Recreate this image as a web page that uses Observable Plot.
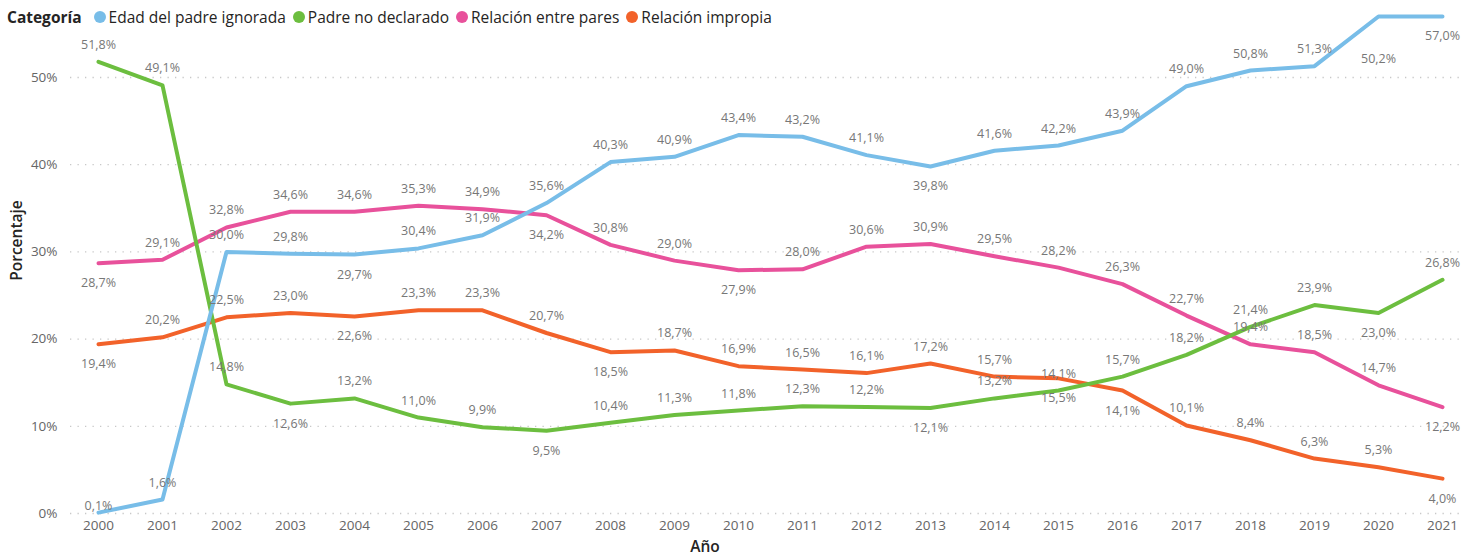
<!DOCTYPE html>
<html>
<head>
<meta charset="utf-8">
<script src="https://cdn.jsdelivr.net/npm/d3@7"></script>
<script src="https://cdn.jsdelivr.net/npm/@observablehq/plot@0.6"></script>
<style>
  html, body { margin: 0; padding: 0; background: #fff; }
  #wrap { position: relative; width: 1483px; height: 557px; font-family: "Open Sans", sans-serif; }
  #legend { position: absolute; top: 0; left: 7px; height: 34px; display: flex; align-items: center; font-size: 15.5px; color: #252423; white-space: nowrap; z-index: 2; }
  #legend .title { font-weight: 700; margin-right: 12px; }
  #legend .item { display: flex; align-items: center; margin-right: 7px; }
  #legend .dot { width: 12px; height: 12px; border-radius: 50%; margin-right: 3px; }
  #chart { position: absolute; top: 0; left: 0; }
</style>
</head>
<body>
<div id="wrap">
  <div id="legend"></div>
  <div id="chart"></div>
</div>
<script>
// ---- data ----
const years = [2000, 2001, 2002, 2003, 2004, 2005, 2006, 2007, 2008, 2009, 2010,
               2011, 2012, 2013, 2014, 2015, 2016, 2017, 2018, 2019, 2020, 2021];
const categories = ["Edad del padre ignorada", "Padre no declarado", "Relación entre pares", "Relación impropia"];
const colors = ["#78BDE8", "#6CBE3F", "#E8519B", "#F2622A"];

const edadIgnorada = [0.1, 1.6, 30.0, 29.8, 29.7, 30.4, 31.9, 35.6, 40.3, 40.9, 43.4,
                      43.2, 41.1, 39.8, 41.6, 42.2, 43.9, 49.0, 50.8, 51.3, 57.0, 57.0];
// the label printed at 2020 reads 50,2% although the line sits at 57%
const edadIgnoradaEtiquetas = [0.1, 1.6, 30.0, 29.8, 29.7, 30.4, 31.9, 35.6, 40.3, 40.9, 43.4,
                      43.2, 41.1, 39.8, 41.6, 42.2, 43.9, 49.0, 50.8, 51.3, 50.2, 57.0];
const padreNoDeclarado = [51.8, 49.1, 14.8, 12.6, 13.2, 11.0, 9.9, 9.5, 10.4, 11.3, 11.8,
                          12.3, 12.2, 12.1, 13.2, 14.1, 15.7, 18.2, 21.4, 23.9, 23.0, 26.8];
const relacionPares = [28.7, 29.1, 32.8, 34.6, 34.6, 35.3, 34.9, 34.2, 30.8, 29.0, 27.9,
                       28.0, 30.6, 30.9, 29.5, 28.2, 26.3, 22.7, 19.4, 18.5, 14.7, 12.2];
const relacionImpropia = [19.4, 20.2, 22.5, 23.0, 22.6, 23.3, 23.3, 20.7, 18.5, 18.7, 16.9,
                          16.5, 16.1, 17.2, 15.7, 15.5, 14.1, 10.1, 8.4, 6.3, 5.3, 4.0];
const yTicks = [0, 10, 20, 30, 40, 50];

// label placement (a = above, b = below, n = just above)
const labelPlacement = [
  "naaabaaaaaaaabaaaaaaab".split(""),
  "aaabaaabaaaaabaaaaaaba".split(""),
  "baaaaaabaabaaaaaaaaaab".split(""),
  "baaabaaabaaaaaabbaaaab".split("")
];

const seriesValues = [edadIgnorada, padreNoDeclarado, relacionPares, relacionImpropia];
const seriesLabels = [edadIgnoradaEtiquetas, padreNoDeclarado, relacionPares, relacionImpropia];

const rows = categories.flatMap((cat, k) => years.map((year, i) => ({
  cat, year, value: seriesValues[k][i], label: seriesLabels[k][i], side: labelPlacement[k][i]
})));

const fmt = v => v.toFixed(1).replace(".", ",") + "%";

// ---- legend ----
const legend = document.getElementById("legend");
legend.innerHTML = `<span class="title">Categoría</span>` + categories.map((c, i) =>
  `<span class="item"><span class="dot" style="background:${colors[i]}"></span>${c}</span>`).join("");

// ---- chart ----
const drawOrder = ["Relación impropia", "Relación entre pares", "Padre no declarado", "Edad del padre ignorada"];
const labelStyle = {fontSize: 12.5, fill: "#777", fontFamily: "Open Sans"};

const chart = Plot.plot({
  width: 1483,
  height: 557,
  marginTop: 77,
  marginBottom: 44,
  marginLeft: 70,
  marginRight: 18,
  style: {fontFamily: "Open Sans", background: "white", overflow: "visible"},
  x: {type: "point", domain: years, padding: 0.382, align: 0.551, label: null},
  y: {domain: [0, 50], label: null},
  color: {domain: categories, range: colors},
  marks: [
    Plot.ruleY(yTicks, {stroke: "#c8c8c8", strokeDasharray: "1.3,6.2", strokeWidth: 1.3}),
    Plot.axisY({ticks: yTicks, tickSize: 0, tickPadding: 13, tickFormat: d => d + "%", fontSize: 13.5, color: "#666", label: null}),
    Plot.axisX({tickSize: 0, tickPadding: 7, tickFormat: d => String(d), fontSize: 13.5, color: "#666", label: null}),
    ...drawOrder.map(c => Plot.line(rows.filter(d => d.cat === c), {
      x: "year", y: "value", stroke: "cat", strokeWidth: 4, strokeLinejoin: "round", strokeLinecap: "round"
    })),
    Plot.text(rows.filter(d => d.side === "a"), {x: "year", y: "label", text: d => fmt(d.label), dy: -17, ...labelStyle}),
    Plot.text(rows.filter(d => d.side === "b"), {x: "year", y: "label", text: d => fmt(d.label), dy: 20, ...labelStyle}),
    Plot.text(rows.filter(d => d.side === "n"), {x: "year", y: "label", text: d => fmt(d.label), dy: -7, ...labelStyle}),
    Plot.text(["Porcentaje"], {frameAnchor: "left", text: d => d, rotate: -90, textAnchor: "middle", lineAnchor: "middle",
      dx: -53, dy: -55, fontSize: 15.5, fontWeight: 600, fill: "#252423"}),
    Plot.text(["Año"], {frameAnchor: "bottom", text: d => d, textAnchor: "middle", lineAnchor: "middle",
      dx: -63, dy: 34, fontSize: 15.5, fontWeight: 600, fill: "#252423"})
  ]
});
document.getElementById("chart").appendChild(chart);
</script>
</body>
</html>
